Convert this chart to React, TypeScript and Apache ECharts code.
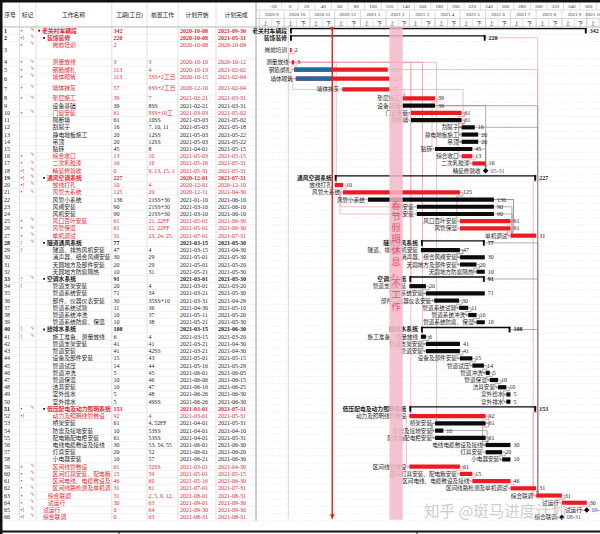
import { useEffect, useRef } from 'react';
import * as echarts from 'echarts';

// ================= DATA =================
const taskNames = [
  '老关村车辆段', '装饰装修', '岗前培训', '测量放线', '钢筋绑扎', '墙体砌筑', '墙体抹灰', '垫层施工', '设备基础', '门窗安装',
  '隔断墙', '刮腻子', '静电地板施工', '吊顶', '贴砖', '综合收口', '二次乳胶漆', '精装修验收', '通风空调系统', '放线打孔',
  '风管大系统', '风管小系统', '风阀安装', '风机安装', '风口百叶安装', '风管保温', '单机调试', '隧道通风系统', '隧道、排热风机安装', '消声器、组合风阀安装',
  '天圆地方及部件安装', '天圆地方防腐隔热', '空调水系统', '管道支架安装', '管道系统安装', '部件、仪器仪表安装', '管道系统试验', '管道系统冲洗', '管道系统防腐、保温', '给排水系统',
  '施工准备、测量放线', '管道支架安装', '管道安装', '设备及部件安装', '管道试压', '管道冲洗', '管道保温', '洁具安装', '室外给水', '室外排水',
  '低压配电及动力照明系统', '动力及照明线管敷设', '桥架安装', '防雷及接地安装', '配电箱配电柜安装', '电线电缆敷设及接线', '灯具安装', '小电器安装', '区间线管敷设', '区间灯具安装、配电箱安装',
  '区间电线、电缆敷设及接线', '区间线路检测及单机调试', '综合联调', '试运行', '试运行', '综合联调',
];
const outlineLevels = [
  0, 1, 2, 2, 2, 2, 2, 2, 2, 2,
  2, 2, 2, 2, 2, 2, 2, 2, 1, 2,
  2, 2, 2, 2, 2, 2, 2, 1, 2, 2,
  2, 2, 1, 2, 2, 2, 2, 2, 2, 1,
  2, 2, 2, 2, 2, 2, 2, 2, 2, 2,
  1, 2, 2, 2, 2, 2, 2, 2, 2, 2,
  2, 2, 1, 1, 0, 0,
];
const taskKinds = [
  'S', 'S', 'T', 'T', 'T', 'T', 'T', 'T', 'T', 'T',
  'T', 'T', 'T', 'T', 'T', 'T', 'T', 'M', 'S', 'T',
  'T', 'T', 'T', 'T', 'T', 'T', 'T', 'S', 'T', 'T',
  'T', 'T', 'S', 'T', 'T', 'T', 'T', 'T', 'T', 'S',
  'T', 'T', 'T', 'T', 'T', 'T', 'T', 'T', 'T', 'T',
  'S', 'T', 'T', 'T', 'T', 'T', 'T', 'T', 'T', 'T',
  'T', 'T', 'T', 'T', 'M', 'M',
];
const durations = [
  342, 220, 2, 3, 113, 113, 57, 39, 39, 61,
  61, 16, 20, 20, 45, 13, 16, 0, 227, 10,
  125, 136, 90, 90, 61, 61, 31, 77, 47, 30,
  20, 10, 91, 20, 71, 30, 11, 10, 10, 108,
  6, 41, 41, 15, 14, 5, 10, 10, 5, 5,
  153, 92, 61, 10, 61, 30, 20, 10, 61, 15,
  46, 31, 31, 30, 0, 0,
];
const predecessors = [
  '', '', '', '3', '4', '5SS+2工日', '6SS+2工日', '7', '8SS', '9SS+10工日',
  '10SS', '7, 10, 11', '12SS', '12SS', '8', '10', '16', '9, 13, 15, 14', '', '4',
  '20', '21SS+30工日', '21SS+30工日', '21SS+30工日', '21, 22FF', '21, 22FF', '23, 24, 25, 26', '', '4', '29',
  '29', '31', '', '4', '34', '35SS+10工日', '36', '37', '38', '',
  '4', '41', '42SS', '43', '44', '45', '46', '47', '48', '49SS',
  '', '4', '4, 52FF', '53SS', '53SS', '53, 54, 55', '52', '57', '52SS', '59',
  '60', '61', '2, 5, 9, 12, 19, 28, 33, 40, 51', '63', '64', '63',
];
const startDates = [
  '2020-10-08', '2020-10-08', '2020-10-08', '2020-10-10', '2020-10-13', '2020-10-15', '2020-12-10', '2021-02-21', '2021-02-21', '2021-03-03',
  '2021-03-03', '2021-05-03', '2021-05-03', '2021-05-03', '2021-04-01', '2021-05-03', '2021-05-16', '2021-05-31', '2020-12-01', '2020-12-01',
  '2020-12-11', '2021-01-10', '2021-03-10', '2021-03-10', '2021-05-01', '2021-05-01', '2021-07-01', '2021-03-15', '2021-03-15', '2021-05-01',
  '2021-05-01', '2021-05-21', '2021-03-01', '2021-03-01', '2021-03-21', '2021-03-31', '2021-04-30', '2021-05-11', '2021-05-21', '2021-03-15',
  '2021-03-15', '2021-03-21', '2021-03-21', '2021-05-01', '2021-05-16', '2021-06-01', '2021-06-06', '2021-06-16', '2021-06-26', '2021-06-26',
  '2021-03-01', '2021-03-01', '2021-04-01', '2021-04-01', '2021-04-01', '2021-06-01', '2021-06-01', '2021-06-21', '2021-03-01', '2021-05-01',
  '2021-05-16', '2021-07-01', '2021-08-01', '2021-09-01', '2021-09-30', '2021-08-31',
];
const finishDates = [
  '2021-09-30', '2021-05-31', '2020-10-09', '2020-10-12', '2021-02-02', '2021-02-04', '2021-02-04', '2021-03-31', '2021-03-31', '2021-05-02',
  '2021-05-02', '2021-05-18', '2021-05-22', '2021-05-22', '2021-05-15', '2021-05-15', '2021-05-31', '2021-05-31', '2021-07-31', '2020-12-10',
  '2021-04-30', '2021-06-10', '2021-06-10', '2021-06-10', '2021-06-30', '2021-06-30', '2021-07-31', '2021-05-30', '2021-04-30', '2021-05-30',
  '2021-05-20', '2021-05-30', '2021-05-30', '2021-03-20', '2021-05-30', '2021-04-29', '2021-05-10', '2021-05-20', '2021-05-30', '2021-06-30',
  '2021-03-20', '2021-04-30', '2021-04-30', '2021-05-15', '2021-05-29', '2021-06-05', '2021-06-15', '2021-06-25', '2021-06-30', '2021-06-30',
  '2021-07-31', '2021-05-31', '2021-05-31', '2021-04-10', '2021-05-31', '2021-06-30', '2021-06-20', '2021-06-30', '2021-04-30', '2021-05-15',
  '2021-06-30', '2021-07-31', '2021-08-31', '2021-09-30', '2021-09-30', '2021-08-31',
];
const criticalRows = [1, 2, 3, 4, 5, 6, 7, 8, 10, 16, 17, 18, 19, 20, 21, 25, 26, 27, 51, 52, 59, 60, 61, 62, 63, 64, 65, 66];
const flagMarks = [
  '•', '•!', '•', '•', '•', '•', '•', '•', '', '•',
  '', '', '', '', '', '•', '•', '•!', '•!', '•!',
  '•', '', '', '', '•', '•', '•', '!', '!', '',
  '', '', '!', '!', '', '', '', '', '', '!',
  '!', '', '', '', '', '', '', '', '', '',
  '•', '•!', '', '', '', '', '', '', '•', '•',
  '•', '•', '•', '•', '•!', '•!',
];
const noteRows = [1, 2, 3, 4, 5, 6, 7, 8, 10, 16, 17, 18, 19, 20, 21, 25, 26, 27, 28, 33, 40, 41, 51, 59, 60, 61, 62, 63, 64, 65, 66];
const progressRows = [5, 6];
const statusDate = '2020-11-28';
const projectStart = '2020-10-08';
const holidayStart = '2021-02-05';
const holidayEnd = '2021-02-20';
const holidayText = '春节假期休息，不工作';
const tableHeaders = ['序号', '标记', '工作名称', '工期(工日)', '前置工作', '计划开始', '计划完成'];
const dayTicks = [-20, 0, 20, 40, 60, 80, 100, 120, 140, 160, 180, 200, 220, 240, 260, 280, 300, 320, 340, 360];
const monthTicks = [
  '2020-08', '2020-09', '2020-10', '2020-11', '2020-12', '2021-01', '2021-02', '2021-03',
  '2021-04', '2021-05', '2021-06', '2021-07', '2021-08', '2021-09', '2021-10',
];
const halfMonthLabels = ['上', '下'];
const watermarkText = '知乎 @斑马进度计划';

// ================= LAYOUT / STYLE =================
const W = 600;
const H = 534;
const HEAD_H = 27;
const FOOT_GAP = 13.2;
const TABLE_W = 256;
const TABLE_BOTTOM = H - FOOT_GAP;
const TALL_ROWS: Record<number, number> = { 3: 2.4, 6: 1.5, 7: 1.5 };
const COL_LINES = [19.5, 36, 111.8, 147, 178, 216];
const HEADER_CX = [10, 27.5, 73.5, 129.5, 162.5, 197, 236];
const VIEW_START = '2020-08-28';
const VIEW_END = '2021-10-17';
const GRID_MARK_DATE = '2020-10-06';

const RED_TEXT = '#e2262d';
const INK = '#1b1b1b';
const BAR_RED = '#ea1b23';
const BAR_BLACK = '#0b0b0b';
const BAR_BLUE = '#1d6b9f';
const LINK_RED = '#eca3ab';
const LINK_GRAY = '#8c8c8c';
const MILE_BLUE = '#3f4fc6';
const BAND = '#f3b9c7';
const BAND_TEXT = '#e2536f';
const HEAD_LINE = '#c4c4c4';
const SERIF = '"Liberation Serif","Noto Sans CJK SC",serif';
const CJK = '"Noto Sans CJK SC","Noto Sans",sans-serif';

const DAY = 86400000;
const toTs = (s: string) => {
  const [y, m, d] = s.split('-').map(Number);
  return Date.UTC(y, m - 1, d);
};

// ================= DERIVED =================
const criticalSet = new Set(criticalRows);
const noteSet = new Set(noteRows);
const rowSpan = taskNames.map((_, i) => TALL_ROWS[i + 1] ?? 1);
const rowTop: number[] = [];
let accUnits = 0;
rowSpan.forEach((u) => {
  rowTop.push(accUnits);
  accUnits += u;
});
const totalUnits = accUnits;
const rowCenter = rowTop.map((t, i) => t + rowSpan[i] / 2);
const barStart = startDates.map((s, i) => (taskKinds[i] === 'M' ? toTs(finishDates[i]) + DAY : toTs(s)));
const barEnd = finishDates.map((f) => toTs(f) + DAY);

const links: [number, number, string][] = [];
predecessors.forEach((p, si) => {
  if (!p) return;
  p.split(',').forEach((tok) => {
    const m = tok.trim().match(/^(\d+)(SS|FF|FS|SF)?/);
    if (m) links.push([Number(m[1]) - 1, si, m[2] || 'FS']);
  });
});

// ================= HELPERS =================
const txt = (x: number, y: number, text: string, o: any = {}) => {
  const align = o.align ?? 'left';
  const style: any = {
    text,
    fill: o.fill ?? INK,
    fontSize: o.size ?? 6,
    fontFamily: o.family ?? SERIF,
    fontWeight: o.bold ? 'bold' : 'normal',
    align,
    textAlign: align,
    verticalAlign: o.va ?? 'middle',
    textVerticalAlign: o.va ?? 'middle',
  };
  if (o.width) {
    style.width = o.width;
    style.overflow = 'truncate';
    style.ellipsis = '';
  }
  if (o.lineHeight) style.lineHeight = o.lineHeight;
  if (o.opacity != null) style.opacity = o.opacity;
  return { type: 'text', x, y, z2: o.z2 ?? 10, silent: true, style };
};
const seg = (x1: number, y1: number, x2: number, y2: number, stroke: string, lw = 0.6, dash?: number[]) => ({
  type: 'line',
  silent: true,
  shape: { x1, y1, x2, y2 },
  style: { stroke, lineWidth: lw, lineDash: dash },
});
const box = (x: number, y: number, w: number, h: number, fill: string, z2 = 5) => ({
  type: 'rect',
  silent: true,
  z2,
  shape: { x, y, width: w, height: h },
  style: { fill },
});
const arrow = (x: number, y: number, dir: string, color: string) => {
  const a = 1.5;
  const b = a * 1.4;
  const pts =
    dir === 'down' ? [[x - a, y - b], [x + a, y - b], [x, y]]
      : dir === 'up' ? [[x - a, y + b], [x + a, y + b], [x, y]]
        : dir === 'right' ? [[x - b, y - a], [x - b, y + a], [x, y]]
          : [[x + b, y - a], [x + b, y + a], [x, y]];
  return { type: 'polygon', silent: true, shape: { points: pts }, style: { fill: color } };
};

// ================= RENDERERS =================
const tableItem = (params: any, api: any) => {
  const i = params.dataIndex;
  const X = (v: number) => api.coord([v, 0])[0];
  const yBot = api.coord([0, rowTop[i] + rowSpan[i]])[1];
  const yTop = api.coord([0, rowTop[i]])[1];
  const yTxt = api.coord([0, rowTop[i] + 0.5])[1];
  const yMid = api.coord([0, rowCenter[i]])[1];
  const crit = criticalSet.has(i + 1);
  const summ = taskKinds[i] === 'S';
  const color = crit ? RED_TEXT : INK;
  const lvl = outlineLevels[i];
  const nameX = summ ? 42 + 5 * lvl : 43 + 4.8 * lvl;
  const kids: any[] = [seg(X(2.5), yBot, X(TABLE_W), yBot, '#e4e4e4', 0.5)];
  kids.push(txt(X(4), yMid, String(i + 1), { bold: summ }));
  if (flagMarks[i]) kids.push(txt(X(20.5), yTxt, flagMarks[i], { fill: RED_TEXT, size: 6 }));
  if (noteSet.has(i + 1)) kids.push(txt(X(30.5), yTop + 2.3, '✎', { fill: '#d04a4a', size: 4.5, family: '"DejaVu Sans",sans-serif' }));
  if (summ) kids.push(box(X(nameX - 3.8), yTxt - 0.9, 1.8, 1.8, INK));
  kids.push(txt(X(nameX), yTxt, taskNames[i], { bold: summ, fill: color, size: 5.8, width: 112.8 - nameX }));
  kids.push(txt(X(113.5), yTxt, String(durations[i]), { bold: summ, fill: color }));
  if (predecessors[i]) kids.push(txt(X(148.5), yTxt, predecessors[i], { fill: color, size: 5.8, width: 29.3 }));
  kids.push(txt(X(180), yTxt, startDates[i], { bold: summ, fill: color }));
  kids.push(txt(X(218), yTxt, finishDates[i], { bold: summ, fill: color }));
  return { type: 'group', children: kids };
};

const rowGridItem = (params: any, api: any) => {
  const i = params.dataIndex;
  const cs = params.coordSys;
  const yBot = api.coord([barStart[i], rowTop[i] + rowSpan[i]])[1];
  const kids: any[] = [seg(cs.x, yBot, cs.x + cs.width, yBot, '#d6d6d6', 0.5, [1, 1.3])];
  if (i === 0) {
    const xg = api.coord([toTs(GRID_MARK_DATE), 0])[0];
    kids.push(seg(xg, cs.y, xg, cs.y + cs.height - 2, '#c6c6c6', 0.7));
  }
  return { type: 'group', children: kids };
};

const linkItem = (params: any, api: any) => {
  const [p, s, type] = links[params.dataIndex];
  const P = (t: number, r: number) => api.coord([t, rowCenter[r]]);
  const yp = P(barStart[p], p)[1];
  const ys = P(barStart[s], s)[1];
  const pS = P(barStart[p], p)[0];
  const pE = P(barEnd[p], p)[0];
  const sS = P(barStart[s], s)[0];
  const sE = P(barEnd[s], s)[0];
  const dir = ys >= yp ? 1 : -1;
  const color = criticalSet.has(p + 1) ? LINK_RED : LINK_GRAY;
  const half = taskKinds[s] === 'M' ? 3 : taskKinds[s] === 'S' ? 2.6 : 2.1;
  const inset = taskKinds[s] === 'M' ? 3 : 0;
  let pts: number[][];
  let head: any;
  if (type === 'SS') {
    const xm = Math.min(pS, sS) - 3;
    pts = [[pS, yp], [xm, yp], [xm, ys], [sS - inset, ys]];
    head = arrow(sS - inset, ys, 'right', color);
  } else if (type === 'FF') {
    const xm = Math.max(pE, sE) + 3;
    pts = [[pE, yp], [xm, yp], [xm, ys], [sE + inset, ys]];
    head = arrow(sE + inset, ys, 'left', color);
  } else if (sS >= pE + 2) {
    const xv = taskKinds[s] === 'M' ? sS : sS + 1.5;
    const yt = ys - dir * half;
    pts = [[pE, yp], [xv, yp], [xv, yt]];
    head = arrow(xv, yt, dir > 0 ? 'down' : 'up', color);
  } else {
    const ym = yp + dir * 3.6;
    pts = [[pE, yp], [pE + 3, yp], [pE + 3, ym], [sS - inset - 3, ym], [sS - inset - 3, ys], [sS - inset, ys]];
    head = arrow(sS - inset, ys, 'right', color);
  }
  return {
    type: 'group',
    children: [
      { type: 'polyline', silent: true, shape: { points: pts }, style: { stroke: color, lineWidth: 0.7, fill: 'none' } },
      head,
    ],
  };
};

const barItem = (params: any, api: any) => {
  const i = params.dataIndex;
  const [x0, y] = api.coord([barStart[i], rowCenter[i]]);
  const x1 = api.coord([barEnd[i], rowCenter[i]])[0];
  const kind = taskKinds[i];
  const crit = criticalSet.has(i + 1);
  const kids: any[] = [];
  if (kind === 'S') {
    const top = y - 2.7;
    kids.push(box(x0, top, x1 - x0, 1.4, BAR_BLACK));
    kids.push(box(x0, top, 1.9, 5.6, BAR_BLACK));
    kids.push(box(x1 - 1.9, top, 1.9, 5.6, BAR_BLACK));
    kids.push(txt(x0 - 3, y, taskNames[i], { align: 'right', bold: true, size: 5.8 }));
    kids.push(txt(x1 + 3, y, String(durations[i]), { bold: true, size: 6 }));
  } else if (kind === 'M') {
    const d = 2.8;
    kids.push({
      type: 'polygon', silent: true, z2: 6,
      shape: { points: [[x1, y - d], [x1 + d, y], [x1, y + d], [x1 - d, y]] },
      style: { fill: BAR_BLACK },
    });
    kids.push(txt(x1 - 5, y, taskNames[i], { align: 'right', size: 5.6 }));
    kids.push(txt(x1 + 5, y, finishDates[i].slice(5), { fill: MILE_BLUE, size: 6 }));
  } else {
    kids.push(box(x0, y - 2.1, Math.max(x1 - x0, 1), 4.2, crit ? BAR_RED : BAR_BLACK));
    if (progressRows.includes(i + 1)) {
      const xp = api.coord([Math.min(toTs(statusDate), barEnd[i]), rowCenter[i]])[0];
      kids.push(box(x0, y - 2.1, xp - x0, 4.2, BAR_BLUE, 6));
    }
    kids.push(txt(x0 - 3, y, taskNames[i], { align: 'right', size: 5.6 }));
    kids.push(txt(x1 + 3, y, String(durations[i]), { size: 6 }));
  }
  return { type: 'group', children: kids };
};

const holidayItem = (params: any, api: any) => {
  const cs = params.coordSys;
  const xa = api.coord([api.value(0), 0])[0];
  const xb = api.coord([api.value(1), 0])[0];
  return {
    type: 'group',
    children: [
      { type: 'rect', silent: true, shape: { x: xa, y: cs.y, width: xb - xa, height: cs.height - 1 }, style: { fill: BAND, opacity: 0.85 } },
      txt((xa + xb) / 2, cs.y + cs.height * 0.462, holidayText.split('').join('\n'), {
        align: 'center', size: 9.5, lineHeight: 11.2, fill: BAND_TEXT, family: CJK,
      }),
    ],
  };
};

const todayItem = (params: any, api: any) => {
  const cs = params.coordSys;
  const x = api.coord([api.value(0), 0])[0];
  const y0 = cs.y;
  const y1 = cs.y + cs.height - 2;
  return {
    type: 'group',
    children: [
      seg(x, y0, x, y1, BAR_RED, 1.4),
      { type: 'polygon', silent: true, shape: { points: [[x - 2.4, y0], [x + 2.4, y0], [x, y0 + 4.5]] }, style: { fill: BAR_RED } },
      { type: 'polygon', silent: true, shape: { points: [[x - 2.4, y1 - 4.5], [x + 2.4, y1 - 4.5], [x, y1]] }, style: { fill: BAR_RED } },
    ],
  };
};

const headerItem = (params: any, api: any) => {
  const cs = params.coordSys;
  const L = cs.x;
  const R = cs.x + cs.width;
  const X = (t: number) => api.coord([t, 0])[0];
  const kids: any[] = [];
  const yA0 = 2.5;
  const yA1 = 10;
  const yB1 = 18.5;
  const yC1 = HEAD_H;
  kids.push(seg(L, yA1, R, yA1, HEAD_LINE), seg(L, yB1, R, yB1, HEAD_LINE), seg(L, yC1, R, yC1, '#9a9a9a', 0.7));
  const t0 = toTs(projectStart);
  dayTicks.forEach((d) => {
    const x = X(t0 + d * DAY);
    const xb = X(t0 + (d + 10) * DAY);
    if (xb > L && xb < R) kids.push(seg(xb, yA0, xb, yA1, HEAD_LINE));
    if (x > L + 5) kids.push(txt(x, 6.4, String(d), { align: 'center', size: 5, fill: '#333' }));
  });
  const cell = (a: number, b: number, yT: number, yB: number, yc: number, label: string, minW: number) => {
    const xa = X(a);
    const xb = X(b);
    if (xb <= L || xa >= R) return;
    if (xa > L) kids.push(seg(xa, yT, xa, yB, HEAD_LINE));
    const va = Math.max(xa, L);
    const vb = Math.min(xb, R);
    if (vb - va >= minW) kids.push(txt((va + vb) / 2, yc, label, { align: 'center', size: 5, fill: '#333' }));
  };
  monthTicks.forEach((m) => {
    const [yy, mm] = m.split('-').map(Number);
    const s = Date.UTC(yy, mm - 1, 1);
    const mid = Date.UTC(yy, mm - 1, 16);
    const e = Date.UTC(yy, mm, 1);
    cell(s, e, yA1, yC1, 14.5, `${yy} ${mm}`, 9);
    cell(s, mid, yB1, yC1, 23, halfMonthLabels[0], 4);
    cell(mid, e, yB1, yC1, 23, halfMonthLabels[1], 4);
  });
  return { type: 'group', children: kids };
};

// ================= OPTION =================
function buildOption() {
  const rowsData = taskNames.map((_, i) => [barStart[i], rowCenter[i]]);
  const graphic: any[] = [
    ...COL_LINES.map((x) => ({
      type: 'line', silent: true, z: 1,
      shape: { x1: x, y1: 2.5, x2: x, y2: TABLE_BOTTOM },
      style: { stroke: '#cdcdcd', lineWidth: 0.6 },
    })),
    { type: 'line', silent: true, z: 20, shape: { x1: 0, y1: HEAD_H, x2: TABLE_W, y2: HEAD_H }, style: { stroke: '#9a9a9a', lineWidth: 0.7 } },
    { type: 'line', silent: true, z: 20, shape: { x1: TABLE_W, y1: 2.5, x2: TABLE_W, y2: TABLE_BOTTOM }, style: { stroke: '#8a8a8a', lineWidth: 0.8 } },
    ...tableHeaders.map((h, k) => ({
      type: 'text', silent: true, z: 20, x: HEADER_CX[k], y: 15,
      style: {
        text: h, fill: '#222', fontSize: 5.8, fontFamily: SERIF,
        align: 'center', textAlign: 'center', verticalAlign: 'middle', textVerticalAlign: 'middle',
      },
    })),
    { type: 'rect', silent: true, z: 60, shape: { x: 0, y: 0, width: W, height: 2.5 }, style: { fill: '#111' } },
    { type: 'rect', silent: true, z: 60, shape: { x: 0, y: 0, width: 2.5, height: H }, style: { fill: '#111' } },
    { type: 'rect', silent: true, z: 60, shape: { x: 0, y: 530.5, width: W, height: 2 }, style: { fill: '#111' } },
    { type: 'line', silent: true, z: 60, shape: { x1: 119, y1: 531, x2: 119, y2: H }, style: { stroke: '#111', lineWidth: 1 } },
    { type: 'line', silent: true, z: 60, shape: { x1: 417, y1: 531, x2: 417, y2: H }, style: { stroke: '#111', lineWidth: 1 } },
    {
      type: 'text', silent: true, z: 80, x: 424, y: 510,
      style: {
        text: watermarkText, fill: 'rgba(196,196,196,0.85)', fontSize: 15.5, fontFamily: CJK,
        align: 'left', textAlign: 'left', verticalAlign: 'middle', textVerticalAlign: 'middle',
      },
    },
  ];
  return {
    animation: false,
    backgroundColor: '#ffffff',
    tooltip: { show: false },
    grid: [
      { left: 0, top: HEAD_H, width: TABLE_W, bottom: FOOT_GAP },
      { left: TABLE_W, top: HEAD_H, right: 0, bottom: FOOT_GAP },
    ],
    xAxis: [
      { type: 'value', gridIndex: 0, min: 0, max: TABLE_W, show: false },
      { type: 'value', gridIndex: 1, min: toTs(VIEW_START), max: toTs(VIEW_END), show: false },
    ],
    yAxis: [
      { type: 'value', gridIndex: 0, min: 0, max: totalUnits, inverse: true, show: false },
      { type: 'value', gridIndex: 1, min: 0, max: totalUnits, inverse: true, show: false },
    ],
    series: [
      { type: 'custom', name: 'table', xAxisIndex: 0, yAxisIndex: 0, z: 3, silent: true, clip: false, data: taskNames.map((_, i) => [0, rowCenter[i]]), renderItem: tableItem },
      { type: 'custom', name: 'rowgrid', xAxisIndex: 1, yAxisIndex: 1, z: 1, silent: true, clip: false, data: rowsData, renderItem: rowGridItem },
      { type: 'custom', name: 'links', xAxisIndex: 1, yAxisIndex: 1, z: 2, silent: true, clip: false, data: links.map((l) => [barStart[l[1]], rowCenter[l[1]]]), renderItem: linkItem },
      { type: 'custom', name: 'bars', xAxisIndex: 1, yAxisIndex: 1, z: 4, silent: true, clip: false, data: rowsData, renderItem: barItem },
      { type: 'custom', name: 'holiday', xAxisIndex: 1, yAxisIndex: 1, z: 6, silent: true, clip: false, data: [[toTs(holidayStart), toTs(holidayEnd) + DAY]], renderItem: holidayItem },
      { type: 'custom', name: 'today', xAxisIndex: 1, yAxisIndex: 1, z: 7, silent: true, clip: false, data: [[toTs(statusDate), 0]], renderItem: todayItem },
      { type: 'custom', name: 'header', xAxisIndex: 1, yAxisIndex: 1, z: 7, silent: true, clip: false, data: [[toTs(projectStart), 0]], renderItem: headerItem },
    ],
    graphic,
  };
}

export default function App() {
  const ref = useRef<HTMLDivElement>(null);
  useEffect(() => {
    document.body.style.margin = '0';
    const chart = echarts.init(ref.current as HTMLDivElement, undefined, { renderer: 'svg', width: W, height: H });
    chart.setOption(buildOption() as any);
    return () => chart.dispose();
  }, []);
  return <div ref={ref} style={{ width: W, height: H, background: '#fff' }} />;
}
